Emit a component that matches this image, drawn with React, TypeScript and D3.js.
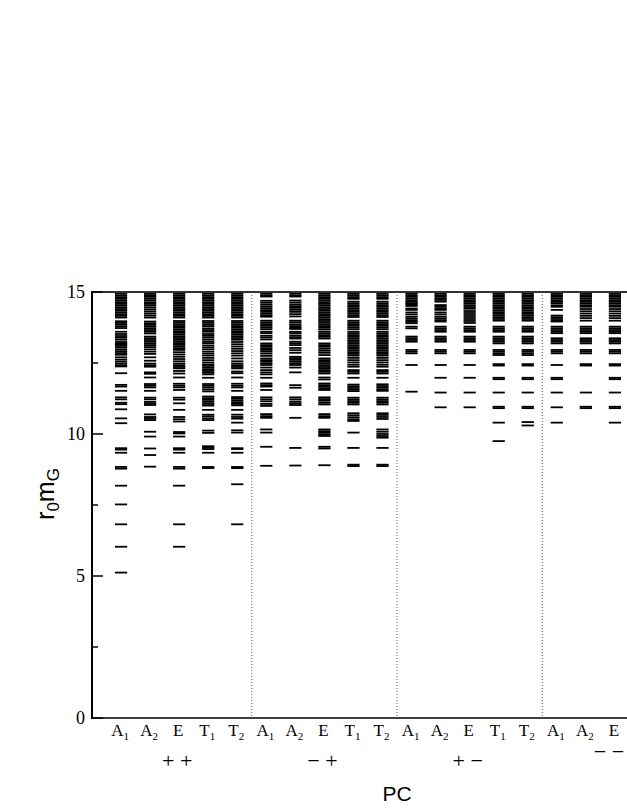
import * as d3 from "d3";

// x positions: 1..5 = ++, 6..10 = -+, 11..15 = +-, 16..20 = --
const categories = ["A1", "A2", "E", "T1", "T2"];
const groupLabels = ["+ +", "\u2212 +", "+ \u2212", "\u2212 \u2212"];
const yMajorTicks = [0, 5, 10, 15];
const yMinorTicks = [2.5, 7.5, 12.5];

// ++ sector
const ppA1 = [15.0, 14.94, 14.88, 14.82, 14.76, 14.7, 14.64, 14.58, 14.52, 14.46, 14.4, 14.34, 14.28, 14.22, 14.16, 14.1,
  13.97, 13.91, 13.85, 13.79, 13.73, 13.6, 13.52, 13.45, 13.39, 13.32, 13.24, 13.19, 13.16, 13.1, 13.04, 12.97, 12.91,
  12.85, 12.79, 12.7, 12.62, 12.55, 12.48, 12.42, 12.38, 12.14, 11.73, 11.67, 11.52, 11.29, 11.22, 11.1, 11.05, 10.87,
  10.55, 10.38, 9.5, 9.45, 9.34, 8.84, 8.78, 8.18, 7.52, 6.82, 6.03, 5.12];
const ppA2 = [14.95, 14.89, 14.83, 14.77, 14.71, 14.64, 14.58, 14.52, 14.45, 14.38, 14.31, 14.24, 14.17, 14.1,
  13.96, 13.9, 13.84, 13.78, 13.72, 13.66, 13.6, 13.54, 13.43, 13.37, 13.31, 13.25, 13.19, 13.13, 13.06, 12.98, 12.9,
  12.82, 12.7, 12.58, 12.48, 12.42, 12.37, 12.17, 12.12, 11.99, 11.76, 11.7, 11.64, 11.52, 11.28, 11.22, 11.13, 11.07,
  11.02, 10.69, 10.6, 10.55, 10.49, 10.08, 9.91, 9.49, 9.26, 8.85];
const ppE = [15.0, 14.94, 14.88, 14.82, 14.76, 14.7, 14.64, 14.58, 14.52, 14.46, 14.4, 14.34, 14.28, 14.22, 14.16, 14.1,
  13.98, 13.92, 13.86, 13.8, 13.74, 13.68, 13.62, 13.56, 13.5, 13.44, 13.38, 13.32, 13.26, 13.2, 13.14, 13.08, 13.02,
  12.96, 12.88, 12.8, 12.72, 12.64, 12.56, 12.48, 12.42, 12.36, 12.31, 12.22, 12.13, 11.99, 11.77, 11.7, 11.64, 11.55,
  11.28, 11.21, 11.08, 10.85, 10.6, 10.52, 10.44, 10.07, 10.02, 9.91, 9.5, 9.45, 9.34, 8.84, 8.78, 8.18, 6.82, 6.03];
const ppT1 = [15.0, 14.94, 14.88, 14.82, 14.76, 14.7, 14.64, 14.58, 14.52, 14.46, 14.4, 14.34, 14.28, 14.22, 14.16, 14.1,
  13.98, 13.92, 13.86, 13.8, 13.72, 13.66, 13.6, 13.52, 13.46, 13.4, 13.33, 13.26, 13.2, 13.12, 13.05, 12.98, 12.9,
  12.83, 12.76, 12.68, 12.6, 12.52, 12.45, 12.4, 12.34, 12.28, 12.22, 12.16, 12.1, 11.98, 11.76, 11.7, 11.64, 11.57,
  11.5, 11.32, 11.26, 11.2, 11.13, 11.06, 11.0, 10.85, 10.68, 10.62, 10.55, 10.49, 10.12, 10.04, 9.57, 9.52, 9.47,
  9.34, 8.84, 8.8];
const ppT2 = [15.0, 14.94, 14.88, 14.82, 14.76, 14.7, 14.64, 14.58, 14.52, 14.46, 14.4, 14.34, 14.28, 14.22, 14.16, 14.1,
  13.98, 13.92, 13.86, 13.8, 13.74, 13.68, 13.62, 13.56, 13.5, 13.44, 13.38, 13.32, 13.24, 13.16, 13.08, 13.0, 12.92,
  12.84, 12.76, 12.66, 12.56, 12.48, 12.42, 12.36, 12.31, 12.2, 12.14, 11.99, 11.77, 11.7, 11.64, 11.52, 11.3, 11.24,
  11.18, 11.12, 11.06, 11.01, 10.85, 10.68, 10.6, 10.54, 10.4, 10.13, 10.05, 9.5, 9.47, 9.34, 8.84, 8.8, 8.23, 6.82];

// -+ sector
const mpA1 = [15.0, 14.94, 14.88, 14.84, 14.69, 14.62, 14.55, 14.48, 14.42, 14.36, 14.3, 14.24, 14.18, 14.13, 13.99,
  13.93, 13.87, 13.81, 13.75, 13.69, 13.6, 13.55, 13.46, 13.4, 13.33, 13.19, 13.13, 13.07, 13.01, 12.96, 12.9, 12.83,
  12.75, 12.66, 12.6, 12.55, 12.49, 12.43, 12.34, 12.25, 12.17, 12.1, 11.98, 11.78, 11.72, 11.67, 11.55, 11.29, 11.22,
  11.15, 11.06, 10.99, 10.7, 10.63, 10.57, 10.16, 10.05, 9.55, 8.88];
const mpA2 = [15.0, 14.94, 14.88, 14.84, 14.7, 14.63, 14.56, 14.5, 14.44, 14.37, 14.3, 14.22, 14.14, 13.99, 13.93,
  13.86, 13.8, 13.74, 13.7, 13.6, 13.55, 13.47, 13.41, 13.36, 13.25, 13.19, 13.13, 13.03, 12.95, 12.86, 12.72, 12.67,
  12.61, 12.55, 12.49, 12.43, 12.34, 12.17, 11.72, 11.63, 11.29, 11.22, 11.14, 11.08, 11.02, 10.57, 9.51, 8.89];
const mpE = [15.0, 14.94, 14.88, 14.82, 14.76, 14.7, 14.64, 14.58, 14.52, 14.46, 14.4, 14.34, 14.28, 14.22, 14.16, 14.1,
  14.04, 13.98, 13.92, 13.86, 13.8, 13.74, 13.68, 13.6, 13.54, 13.48, 13.42, 13.36, 13.19, 13.13, 13.07, 13.0, 12.93,
  12.86, 12.78, 12.66, 12.6, 12.54, 12.48, 12.42, 12.36, 12.31, 12.25, 12.19, 12.13, 11.99, 11.92, 11.78, 11.72, 11.66,
  11.6, 11.55, 11.29, 11.23, 11.17, 11.1, 11.04, 10.7, 10.63, 10.57, 10.16, 10.1, 10.04, 9.98, 9.93, 9.55, 9.49, 8.9];
const mpT1 = [15.0, 14.94, 14.88, 14.82, 14.76, 14.66, 14.6, 14.54, 14.48, 14.42, 14.36, 14.3, 14.24, 14.18, 14.12,
  13.99, 13.93, 13.87, 13.81, 13.75, 13.69, 13.6, 13.54, 13.48, 13.42, 13.36, 13.3, 13.24, 13.18, 13.12, 13.06, 13.0,
  12.94, 12.88, 12.82, 12.76, 12.68, 12.6, 12.52, 12.44, 12.37, 12.25, 12.19, 12.13, 11.98, 11.74, 11.68, 11.62, 11.56,
  11.51, 11.28, 11.22, 11.16, 11.1, 11.04, 10.73, 10.66, 10.59, 10.52, 10.46, 10.05, 9.51, 8.92, 8.87];
const mpT2 = [15.0, 14.94, 14.88, 14.82, 14.76, 14.66, 14.6, 14.54, 14.48, 14.42, 14.36, 14.3, 14.24, 14.18, 14.12,
  13.99, 13.93, 13.87, 13.81, 13.75, 13.69, 13.6, 13.54, 13.48, 13.42, 13.36, 13.3, 13.24, 13.18, 13.12, 13.06, 13.0,
  12.94, 12.88, 12.82, 12.76, 12.68, 12.6, 12.52, 12.44, 12.37, 12.25, 12.19, 12.13, 11.98, 11.75, 11.69, 11.63, 11.57,
  11.52, 11.28, 11.22, 11.16, 11.1, 11.04, 10.73, 10.67, 10.6, 10.53, 10.16, 10.08, 10.0, 9.93, 9.87, 9.51, 8.92, 8.87];

// +- sector
const pmA1 = [14.95, 14.89, 14.83, 14.77, 14.71, 14.65, 14.6, 14.57, 14.51, 14.42, 14.37, 14.28, 14.21, 14.13, 14.07,
  14.01, 13.95, 13.9, 13.78, 13.72, 13.43, 13.37, 13.31, 13.25, 12.96, 12.9, 12.84, 12.43, 11.49];
const pmA2 = [14.95, 14.89, 14.83, 14.77, 14.72, 14.66, 14.54, 14.48, 14.42, 14.37, 14.28, 14.21, 14.13, 14.07, 14.01,
  13.96, 13.78, 13.72, 13.66, 13.6, 13.43, 13.37, 13.31, 13.25, 12.96, 12.9, 12.84, 12.43, 11.98, 11.46, 10.94];
const pmE = [14.95, 14.89, 14.83, 14.77, 14.71, 14.65, 14.59, 14.53, 14.47, 14.41, 14.33, 14.26, 14.19, 14.12, 14.05,
  13.98, 13.91, 13.78, 13.72, 13.66, 13.6, 13.43, 13.37, 13.31, 13.25, 12.96, 12.9, 12.84, 12.43, 11.98, 11.46, 10.94];
const pmT1 = [14.95, 14.89, 14.83, 14.77, 14.71, 14.65, 14.59, 14.53, 14.47, 14.41, 14.35, 14.29, 14.23, 14.17, 14.11,
  14.05, 13.99, 13.78, 13.72, 13.66, 13.6, 13.43, 13.37, 13.31, 13.25, 13.19, 12.96, 12.9, 12.84, 12.78, 12.46, 12.41,
  11.98, 11.93, 11.46, 10.96, 10.91, 10.4, 9.75];
const pmT2 = [14.95, 14.89, 14.83, 14.77, 14.71, 14.65, 14.59, 14.53, 14.47, 14.41, 14.35, 14.29, 14.23, 14.17, 14.11,
  14.05, 13.99, 13.78, 13.72, 13.66, 13.6, 13.43, 13.37, 13.31, 13.25, 13.19, 12.96, 12.9, 12.84, 12.78, 12.46, 12.41,
  11.98, 11.93, 11.46, 10.96, 10.91, 10.42, 10.3];

// -- sector (T1, T2 fall outside the picture)
const mmA1 = [14.95, 14.89, 14.83, 14.77, 14.71, 14.65, 14.6, 14.53, 14.48, 14.37, 14.17, 14.11, 14.05, 13.99, 13.96,
  13.78, 13.72, 13.66, 13.6, 13.55, 13.37, 13.31, 13.25, 13.19, 12.96, 12.9, 12.84, 12.43, 11.98, 11.93, 11.46, 10.94,
  10.4];
const mmA2 = [14.95, 14.89, 14.83, 14.77, 14.71, 14.65, 14.59, 14.53, 14.48, 14.4, 14.32, 14.24, 14.16, 14.08, 13.99,
  13.78, 13.72, 13.66, 13.6, 13.55, 13.37, 13.31, 13.25, 13.19, 12.96, 12.9, 12.84, 12.46, 12.41, 11.46, 10.96, 10.91];
const mmE = [14.95, 14.89, 14.83, 14.77, 14.71, 14.65, 14.59, 14.53, 14.48, 14.4, 14.32, 14.24, 14.16, 14.08, 13.99,
  13.78, 13.72, 13.66, 13.6, 13.55, 13.37, 13.31, 13.25, 13.19, 12.96, 12.9, 12.84, 12.46, 12.41, 11.98, 11.93, 11.46,
  10.96, 10.91, 10.4];

const columns = [ppA1, ppA2, ppE, ppT1, ppT2, mpA1, mpA2, mpE, mpT1, mpT2, pmA1, pmA2, pmE, pmT1, pmT2, mmA1, mmA2, mmE];

const size = { x: 627, y: 811 };
const plot = { left: 92, top: 292, bottom: 718, unit: 29.05 };
const serif = "'Liberation Serif', 'Times New Roman', serif";
const sans = "'Liberation Sans', Arial, sans-serif";

export default function App() {
  const x = d3.scaleLinear([0, 21], [plot.left, plot.left + 21 * plot.unit]);
  const y = d3.scaleLinear([0, 15], [plot.bottom, plot.top]);
  const half = 0.21;

  // only the columns that fit inside the window get a label
  const positions = d3.range(1, 21).filter(p => x(p) + 8 < size.x);
  const groupCenters = [3, 8, 13, 18];

  return (
    <svg
      width={size.x}
      height={size.y}
      viewBox={`0 0 ${size.x} ${size.y}`}
      style={{ position: "absolute", left: 0, top: 0, background: "#fff" }}
    >
      {/* sector dividers */}
      {[5.5, 10.5, 15.5].map(d => (
        <line key={d} x1={x(d)} x2={x(d)} y1={y(15)} y2={y(0)} stroke="#555" strokeWidth={1} strokeDasharray="1,2" />
      ))}

      {/* levels */}
      <g>
        {columns.map((levels, i) =>
          levels.map((v, j) => (
            <line
              key={`${i}-${j}`}
              x1={x(i + 1 - half)}
              x2={x(i + 1 + half)}
              y1={y(v)}
              y2={y(v)}
              stroke="#000"
              strokeWidth={1.8}
            />
          ))
        )}
      </g>

      {/* frame */}
      <line x1={x(0)} x2={size.x} y1={y(15)} y2={y(15)} stroke="#333" strokeWidth={2} />
      <line x1={x(0)} x2={size.x} y1={y(0)} y2={y(0)} stroke="#000" strokeWidth={1.5} />
      <line x1={x(0)} x2={x(0)} y1={y(15) - 1} y2={y(0) + 1} stroke="#000" strokeWidth={2} />

      {/* y ticks */}
      {yMajorTicks.map(t => (
        <g key={t}>
          <line x1={x(0)} x2={x(0) + 11} y1={y(t)} y2={y(t)} stroke="#000" strokeWidth={1.5} />
          <text x={x(0) - 7} y={y(t) + 6} textAnchor="end" fontFamily={serif} fontSize={18}>{t}</text>
        </g>
      ))}
      {yMinorTicks.map(t => (
        <line key={t} x1={x(0)} x2={x(0) + 6} y1={y(t)} y2={y(t)} stroke="#000" strokeWidth={1.5} />
      ))}

      {/* category labels */}
      {positions.map(p => {
        const label = categories[(p - 1) % 5];
        return (
          <text key={p} x={x(p) - 1} y={736} textAnchor="middle" fontFamily={serif} fontSize={17}>
            {label[0]}
            {label.length > 1 && <tspan fontSize={11} dy={4}>{label[1]}</tspan>}
          </text>
        );
      })}

      {/* sector labels */}
      {groupLabels.map((g, i) => (
        <text
          key={g}
          x={i === 3 ? 609 : x(groupCenters[i]) - 2}
          y={i === 3 ? 759 : 768}
          textAnchor="middle"
          fontFamily={serif}
          fontSize={22}
          style={{ whiteSpace: "pre" }}
        >
          {g}
        </text>
      ))}

      {/* axis titles */}
      <text x={x(10.5)} y={801} textAnchor="middle" fontFamily={sans} fontSize={21}>PC</text>
      <text transform={`translate(54, 494) rotate(-90)`} textAnchor="middle" fontFamily={sans} fontSize={25}>
        r<tspan fontSize={17} dy={5}>0</tspan>
        <tspan dy={-5}>m</tspan>
        <tspan fontSize={17} dy={5}>G</tspan>
      </text>
    </svg>
  );
}
